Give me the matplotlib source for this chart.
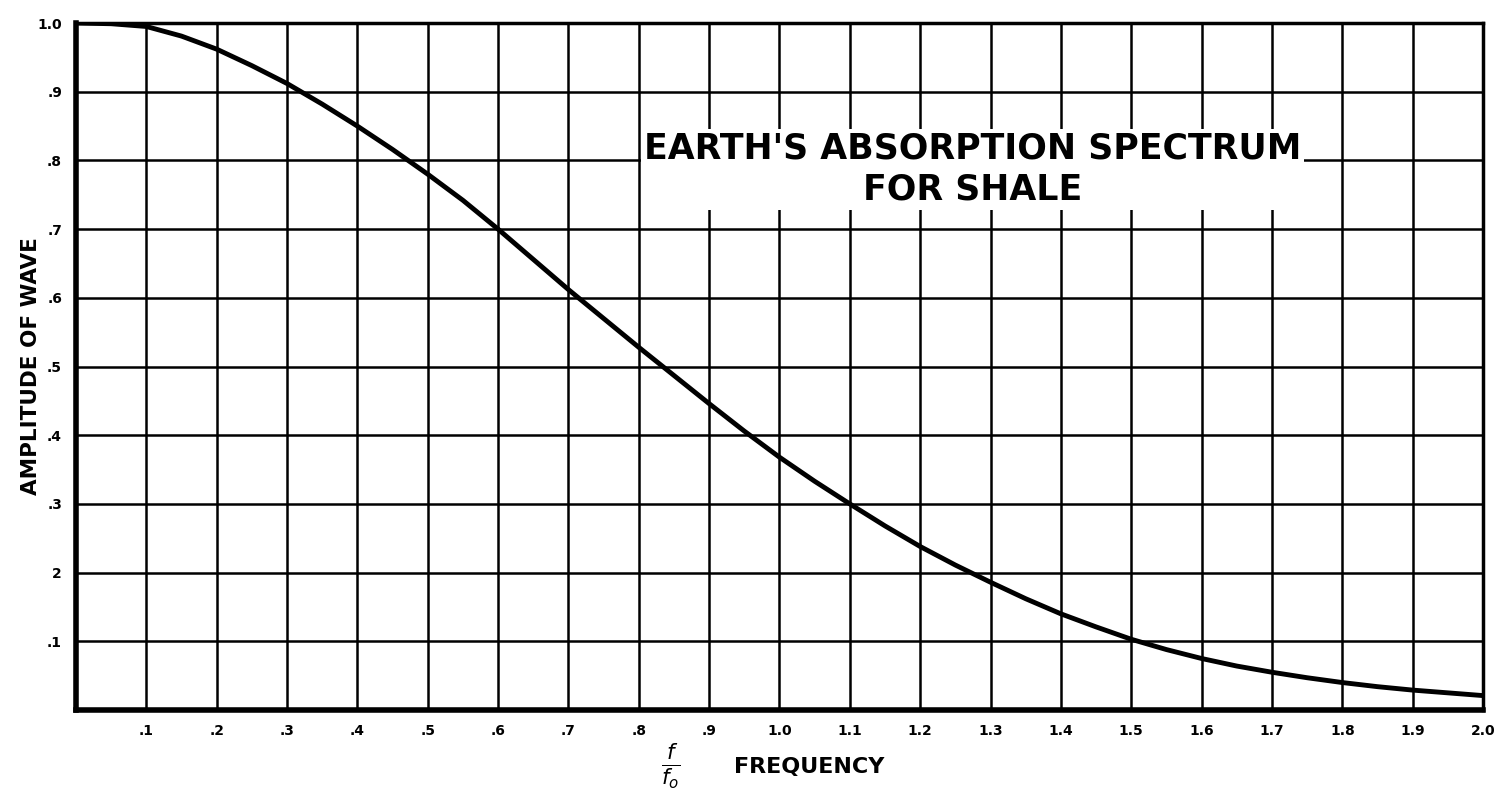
import matplotlib.pyplot as plt
import numpy as np

# ratio f/f0 and wave amplitude read every half grid step
freq_ratio = [0.0, 0.05, 0.1, 0.15, 0.2, 0.25, 0.3, 0.35, 0.4, 0.45, 0.5,
              0.55, 0.6, 0.65, 0.7, 0.75, 0.8, 0.85, 0.9, 0.95, 1.0,
              1.05, 1.1, 1.15, 1.2, 1.25, 1.3, 1.35, 1.4, 1.45, 1.5,
              1.55, 1.6, 1.65, 1.7, 1.75, 1.8, 1.85, 1.9, 1.95, 2.0]
amplitude = [1.0, 0.999, 0.995, 0.981, 0.962, 0.938, 0.912, 0.882, 0.85, 0.816, 0.78,
             0.742, 0.70, 0.656, 0.612, 0.570, 0.528, 0.487, 0.446, 0.406, 0.368,
             0.333, 0.30, 0.268, 0.238, 0.211, 0.186, 0.162, 0.14, 0.121, 0.103,
             0.088, 0.075, 0.064, 0.055, 0.047, 0.040, 0.034, 0.029, 0.025, 0.021]

x_ticks = [0.1, 0.2, 0.3, 0.4, 0.5, 0.6, 0.7, 0.8, 0.9, 1.0,
           1.1, 1.2, 1.3, 1.4, 1.5, 1.6, 1.7, 1.8, 1.9, 2.0]
x_tick_labels = [".1", ".2", ".3", ".4", ".5", ".6", ".7", ".8", ".9", "1.0",
                 "1.1", "1.2", "1.3", "1.4", "1.5", "1.6", "1.7", "1.8", "1.9", "2.0"]
y_ticks = [0.1, 0.2, 0.3, 0.4, 0.5, 0.6, 0.7, 0.8, 0.9, 1.0]
y_tick_labels = [".1", "2", ".3", ".4", ".5", ".6", ".7", ".8", ".9", "1.0"]

plt.rcParams['font.family'] = ['DejaVu Sans']

fig = plt.figure(figsize=(14.98, 7.89), dpi=100)
ax = fig.add_axes([0.0507, 0.1001, 0.9393, 0.8707])

ax.set_xlim(0, 2.0)
ax.set_ylim(0, 1.0)
ax.set_xticks(x_ticks)
ax.set_xticklabels(x_tick_labels, fontsize=10, fontweight='bold')
ax.set_yticks(y_ticks)
ax.set_yticklabels(y_tick_labels, fontsize=10, fontweight='bold')
ax.tick_params(length=0, pad=10)
ax.grid(True, color='black', linewidth=1.8)
ax.set_axisbelow(True)
for sp in ax.spines.values():
    sp.set_linewidth(2.5)
ax.spines['left'].set_linewidth(4)
ax.spines['bottom'].set_linewidth(4)

ax.plot(freq_ratio, amplitude, color='black', linewidth=3.5, solid_capstyle='butt', zorder=3)

# title block with white background breaking the grid
ax.text(1.275, 0.787, "EARTH'S ABSORPTION SPECTRUM\nFOR SHALE", ha='center', va='center',
        fontsize=25, fontweight='bold', linespacing=1.25,
        bbox=dict(facecolor='white', edgecolor='none', pad=2), zorder=4)

ax.set_ylabel("AMPLITUDE OF WAVE", fontsize=15.5, fontweight='bold')
ax.yaxis.set_label_coords(-0.025, 0.5)

fig.text(0.448, 0.029, r"$\frac{f}{f_o}$", fontsize=22, ha='center', va='center')
fig.text(0.49, 0.028, "FREQUENCY", fontsize=16, fontweight='bold', ha='left', va='center')

fig.savefig("out.png", dpi=100, facecolor='white')
